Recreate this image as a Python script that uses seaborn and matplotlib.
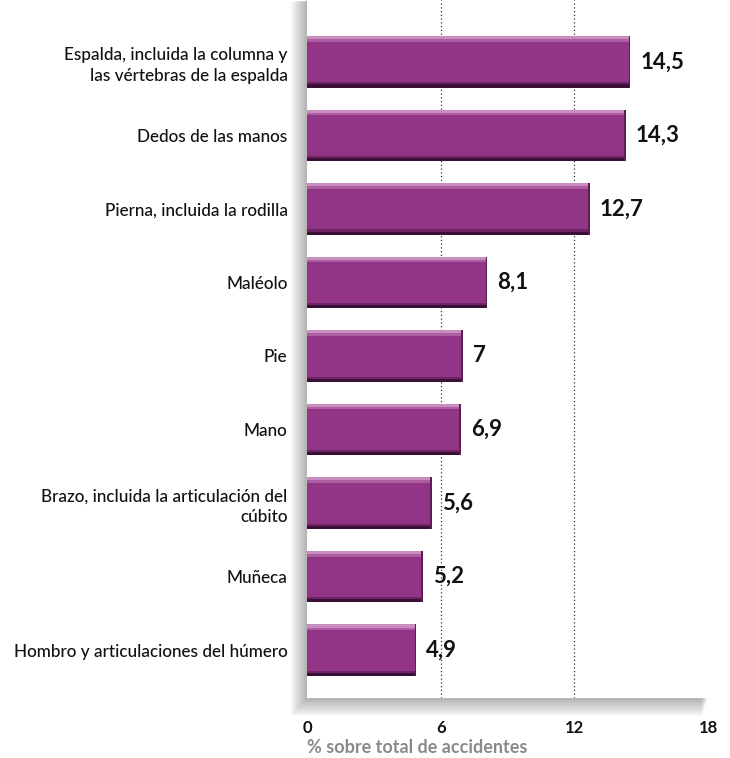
import matplotlib
matplotlib.use("Agg")
import matplotlib.pyplot as plt
import seaborn as sns
import pandas as pd
from matplotlib.patches import Rectangle

categories = [
    "Espalda, incluida la columna y\nlas vértebras de la espalda",
    "Dedos de las manos",
    "Pierna, incluida la rodilla",
    "Maléolo",
    "Pie",
    "Mano",
    "Brazo, incluida la articulación del\ncúbito",
    "Muñeca",
    "Hombro y articulaciones del húmero",
]
values = [14.5, 14.3, 12.7, 8.1, 7, 6.9, 5.6, 5.2, 4.9]
value_labels = ["14,5", "14,3", "12,7", "8,1", "7", "6,9", "5,6", "5,2", "4,9"]
xticks = [0, 6, 12, 18]
xlabel = "% sobre total de accidentes"

sns.set_style("white")
plt.rcParams["font.family"] = ["Lato", "DejaVu Sans"]

df = pd.DataFrame({"cat": categories, "val": values})

L, B, W, H = 0.4205, 0.0792, 0.5495, 0.9208
fig = plt.figure(figsize=(7.3, 7.58), dpi=100)
ax = fig.add_axes([L, B, W, H])

# soft panel shadow (left and bottom)
n = 10
for i in range(n):
    off = (n - i) * 0.0022
    fig.patches.append(Rectangle((L - off, B - off * 1.1), W + off * 0.6, H + off,
                                 transform=fig.transFigure, facecolor="black", alpha=0.03,
                                 edgecolor="none", zorder=0))
ax.set_facecolor("white")
ax.set_zorder(1)

sns.barplot(data=df, x="val", y="cat", color="#933586", saturation=1, width=0.7,
            edgecolor="none", ax=ax, zorder=3)

# bevel highlight / shadow on bars
for p in ax.patches[:len(values)]:
    x0, y0 = p.get_x(), p.get_y()
    w, h = p.get_width(), p.get_height()
    ax.add_patch(Rectangle((x0, y0), w, h * 0.06, facecolor="#c98dc0", edgecolor="none", zorder=4))
    ax.add_patch(Rectangle((x0, y0 + h * 0.06), w, h * 0.05, facecolor="#ad5ea2", edgecolor="none", zorder=4))
    ax.add_patch(Rectangle((x0, y0 + h * 0.94), w, h * 0.06, facecolor="#3b0f36", edgecolor="none", zorder=4))
    ax.add_patch(Rectangle((x0, y0 + h * 0.90), w, h * 0.04, facecolor="#6e2564", edgecolor="none", zorder=4))
    ax.add_patch(Rectangle((x0 + w - 0.07, y0), 0.07, h, facecolor="#5e1d55", edgecolor="none", zorder=5))

for i, (v, lab) in enumerate(zip(values, value_labels)):
    ax.text(v + 0.45, i, lab, va="center", ha="left", fontsize=16, fontweight="bold",
            color="#111111", zorder=5)

ax.set_xlim(0, 18)
ax.set_ylim(8.65, -0.84)
for xv in [6, 12]:
    ax.axvline(xv, color="#333333", linestyle=(0, (1, 2)), linewidth=0.9, zorder=1)

ax.set_xticks(xticks)
ax.set_xticklabels([str(t) for t in xticks], fontsize=12, fontweight="bold", color="#111111")
ax.tick_params(axis="x", length=0, pad=16)
ax.tick_params(axis="y", length=0, pad=14)
for lbl in ax.get_yticklabels():
    lbl.set_fontsize(12.3)
    lbl.set_fontweight("medium")
    lbl.set_color("#111111")
    lbl.set_multialignment("right")
    lbl.set_linespacing(1.35)
ax.set_ylabel("")
ax.set_xlabel(xlabel, fontsize=13, fontweight="bold", color="#8a8a8a")
ax.xaxis.set_label_coords(0.0, -0.0705)
ax.xaxis.label.set_horizontalalignment("left")
ax.xaxis.label.set_verticalalignment("center")
for s in ax.spines.values():
    s.set_visible(False)

fig.savefig("out.png", dpi=100)
